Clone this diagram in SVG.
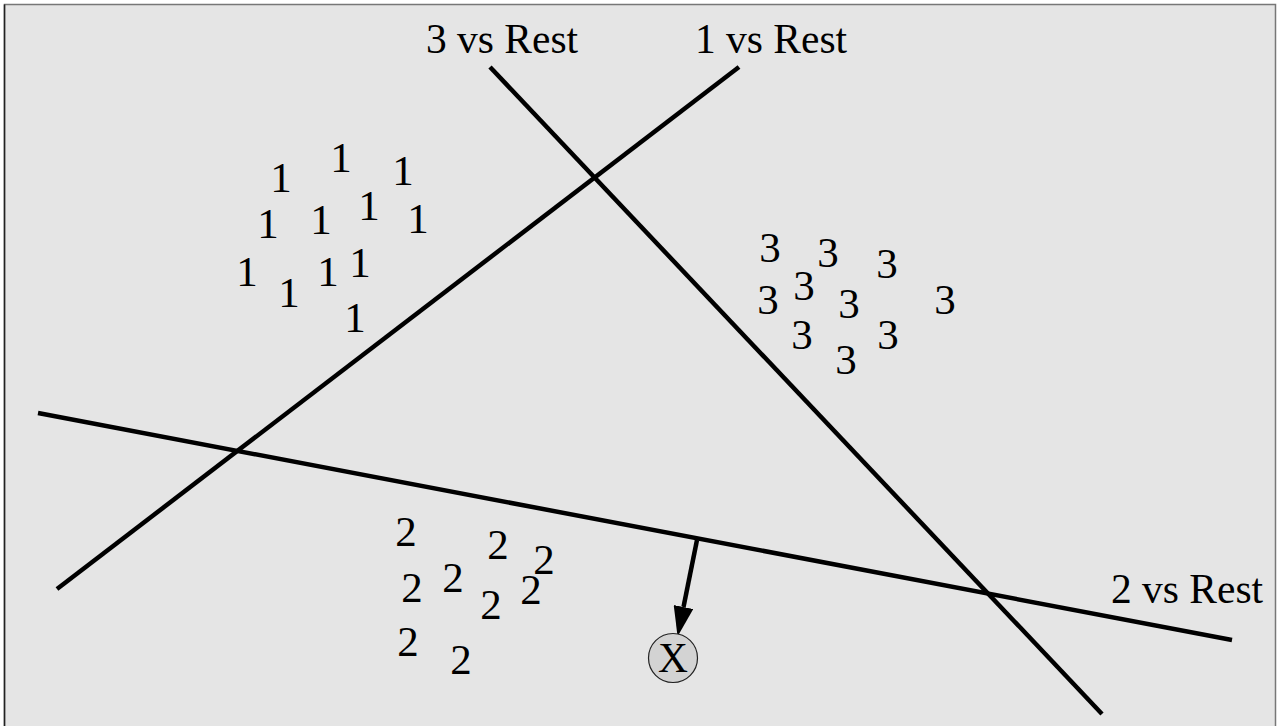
<svg xmlns="http://www.w3.org/2000/svg" width="1277" height="726" viewBox="0 0 1277 726">
  <style>
    .pt { font-family: "Liberation Serif", "Times New Roman", serif; font-size: 43px; fill: #000; text-anchor: middle; }
    .lbl { font-family: "Liberation Serif", "Times New Roman", serif; font-size: 41.5px; fill: #000; text-anchor: middle; }
    .sep { stroke: #000; stroke-width: 4.5; fill: none; }
    .arr { stroke: #000; stroke-width: 4.5; fill: none; }
  </style>
  <defs>
    <marker id="head" markerUnits="userSpaceOnUse" viewBox="0 -10 30 20" refX="0" refY="0" markerWidth="30" markerHeight="20" orient="auto">
      <path d="M0,-10 L30,0 L0,10 z" fill="#000"/>
    </marker>
  </defs>

  <!-- panel -->
  <rect x="0" y="0" width="1277" height="726" fill="#ffffff"/>
  <rect x="4.5" y="4.5" width="1271" height="730" fill="#e5e5e5" stroke="#777" stroke-width="1.5"/>
  <line x1="4.5" y1="4.5" x2="4.5" y2="726" stroke="#222" stroke-width="1.5"/>

  <!-- decision boundaries and the query arrow -->
  <g id="connectors">
    <line class="sep" x1="490" y1="67" x2="1102" y2="714"/>
    <line class="sep" x1="739" y1="67" x2="57" y2="589"/>
    <line class="sep" x1="38" y1="413" x2="1232" y2="640"/>
    <line class="arr" x1="697" y1="540" x2="683.5" y2="607" marker-end="url(#head)"/>
  </g>

  <!-- boundary labels -->
  <g id="label-3-vs-rest"><text class="lbl" x="502" y="53">3 vs Rest</text></g>
  <g id="label-1-vs-rest"><text class="lbl" x="771" y="53">1 vs Rest</text></g>
  <g id="label-2-vs-rest"><text class="lbl" x="1187" y="603">2 vs Rest</text></g>

  <!-- class 1 samples -->
  <g id="class-1">
    <text class="pt" x="281" y="192">1</text>
    <text class="pt" x="341" y="172">1</text>
    <text class="pt" x="403" y="185">1</text>
    <text class="pt" x="268" y="238">1</text>
    <text class="pt" x="321" y="234">1</text>
    <text class="pt" x="369" y="220">1</text>
    <text class="pt" x="418" y="233">1</text>
    <text class="pt" x="247" y="286">1</text>
    <text class="pt" x="289" y="307">1</text>
    <text class="pt" x="328" y="286">1</text>
    <text class="pt" x="360" y="277">1</text>
    <text class="pt" x="355" y="332">1</text>
  </g>

  <!-- class 3 samples -->
  <g id="class-3">
    <text class="pt" x="770" y="262">3</text>
    <text class="pt" x="828" y="267">3</text>
    <text class="pt" x="887" y="278">3</text>
    <text class="pt" x="768" y="314">3</text>
    <text class="pt" x="804" y="300">3</text>
    <text class="pt" x="849" y="318">3</text>
    <text class="pt" x="945" y="314">3</text>
    <text class="pt" x="802" y="349">3</text>
    <text class="pt" x="888" y="349">3</text>
    <text class="pt" x="846" y="374">3</text>
  </g>

  <!-- class 2 samples -->
  <g id="class-2">
    <text class="pt" x="406" y="546">2</text>
    <text class="pt" x="498" y="559">2</text>
    <text class="pt" x="544" y="574">2</text>
    <text class="pt" x="412" y="602">2</text>
    <text class="pt" x="453" y="592">2</text>
    <text class="pt" x="491" y="619">2</text>
    <text class="pt" x="531" y="604">2</text>
    <text class="pt" x="408" y="656">2</text>
    <text class="pt" x="461" y="674">2</text>
  </g>

  <!-- query point -->
  <g id="query-x">
    <circle cx="673" cy="658" r="24.5" fill="#d3d3d3" stroke="#222" stroke-width="1.2"/>
    <text class="lbl" x="673" y="672">X</text>
  </g>
</svg>
